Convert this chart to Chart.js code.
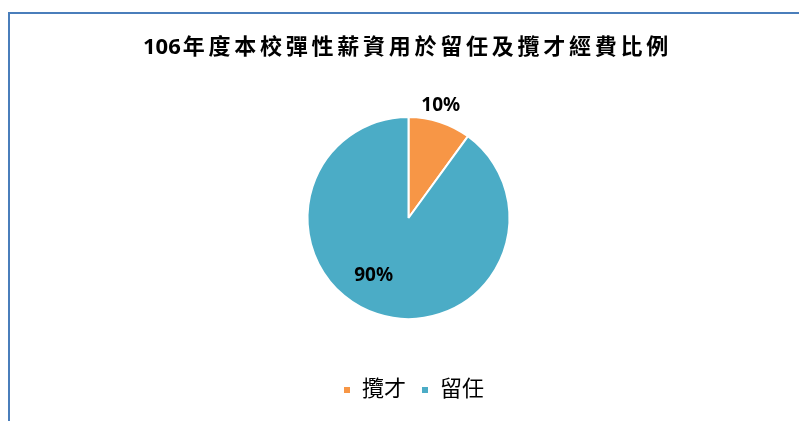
<!DOCTYPE html>
<html>
<head>
<meta charset="utf-8">
<script src="https://cdn.jsdelivr.net/npm/chart.js@4"></script>
<style>
  html, body { margin: 0; padding: 0; background: #fff; overflow: hidden; }
  #frame { position: absolute; left: 8px; top: 12px; width: 820px; height: 440px;
           border-left: 2px solid #4a7ebb; border-top: 2px solid #4a7ebb; }
  #wrap { position: absolute; left: 0; top: 0; width: 799px; height: 421px; }
</style>
</head>
<body>
<div id="frame"></div>
<div id="wrap"><canvas id="c" width="799" height="421"></canvas></div>
<script>
const titleNumber = '106';
const titleWords = '年度本校彈性薪資用於留任及攬才經費比例';
const categories = ['攬才', '留任'];
const values = [10, 90];
const valueLabels = ['10%', '90%'];
const sliceColors = ['#F79646', '#4BACC6'];

const FONT = "'Noto Sans', 'Noto Sans CJK TC', sans-serif";

// label placement relative to each arc (radial factor, extra angle in degrees)
const labelPlacement = [{ f: 1.16, da: -2 }, { f: 0.67, da: 13 }];

// title: drawn with wider CJK spacing, like the original
const titlePlugin = {
  id: 'spacedTitle',
  afterDraw(chart) {
    const ctx = chart.ctx;
    ctx.save();
    ctx.font = "bold 22px " + FONT;
    ctx.fillStyle = '#000';
    ctx.textBaseline = 'middle';
    ctx.textAlign = 'left';
    ctx.letterSpacing = '0px';
    const w1 = ctx.measureText(titleNumber).width;
    const w2 = ctx.measureText(titleWords).width;
    const target = 529, gap = 2;
    const n = [...titleWords].length;
    const s = Math.max(0, (target - w1 - gap - w2) / n);
    const cx = (chart.chartArea.left + chart.chartArea.right) / 2 - 1;
    const x0 = cx - target / 2;
    const y = 47.5;
    ctx.fillText(titleNumber, x0, y);
    ctx.letterSpacing = s.toFixed(2) + 'px';
    ctx.fillText(titleWords, x0 + w1 + gap, y);
    ctx.restore();
  }
};

const shiftLegend = {
  id: 'shiftLegend',
  afterLayout(chart) {
    const lg = chart.legend;
    if (!lg) return;
    lg.left += 5; lg.right += 5;
  }
};

const dataLabels = {
  id: 'dataLabels',
  afterDatasetsDraw(chart) {
    const ctx = chart.ctx;
    const meta = chart.getDatasetMeta(0);
    ctx.save();
    ctx.font = "bold 19px " + FONT;
    ctx.fillStyle = '#000';
    ctx.textAlign = 'center';
    ctx.textBaseline = 'middle';
    meta.data.forEach((arc, i) => {
      const p = arc.getProps(['x', 'y', 'startAngle', 'endAngle', 'outerRadius'], true);
      const mid = (p.startAngle + p.endAngle) / 2 + labelPlacement[i].da * Math.PI / 180;
      const r = p.outerRadius * labelPlacement[i].f;
      ctx.fillText(valueLabels[i], p.x + Math.cos(mid) * r, p.y + Math.sin(mid) * r);
    });
    ctx.restore();
  }
};

new Chart(document.getElementById('c'), {
  type: 'pie',
  data: {
    labels: categories,
    datasets: [{
      data: values,
      backgroundColor: sliceColors,
      borderColor: '#ffffff',
      borderWidth: 2,
      radius: 101
    }]
  },
  options: {
    responsive: false,
    animation: false,
    layout: { padding: { left: 18, right: 0, top: 72, bottom: 10 } },
    plugins: {
      title: { display: false },
      legend: {
        position: 'bottom',
        labels: {
          color: '#000',
          font: { family: FONT, size: 22 },
          boxWidth: 8,
          boxHeight: 8,
          padding: 15
        }
      },
      tooltip: { enabled: false }
    }
  },
  plugins: [shiftLegend, dataLabels, titlePlugin]
});
</script>
</body>
</html>
